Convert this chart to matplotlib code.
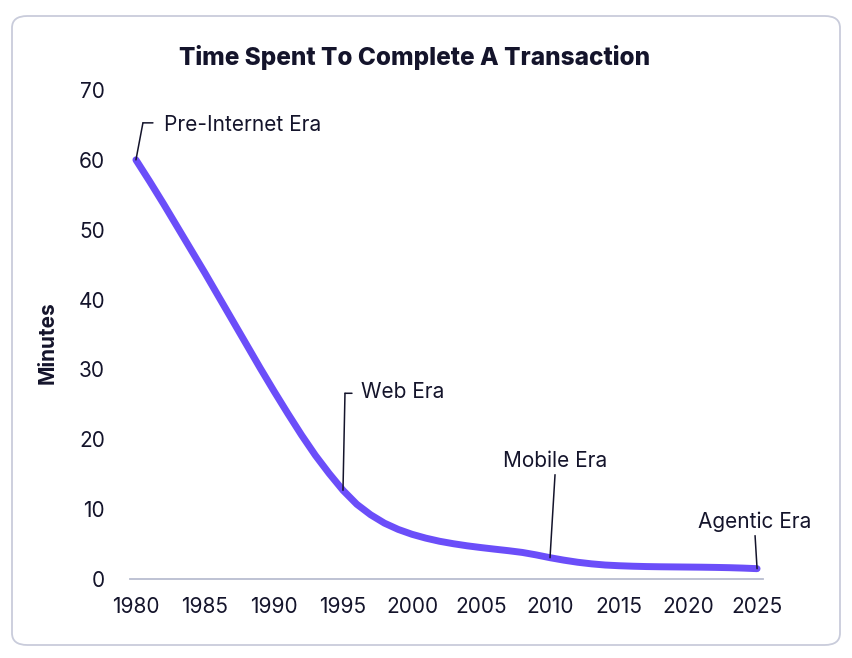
import matplotlib.pyplot as plt
from matplotlib.patches import FancyBboxPatch
from matplotlib.transforms import offset_copy

plt.rcParams['font.family'] = ['Inter', 'DejaVu Sans']

# values, one per year
years = list(range(1980, 2026))
minutes = [60, 56.9, 53.7, 50.4, 47.1, 43.8, 40.4, 37.0, 33.6, 30.2,
           26.9, 23.7, 20.6, 17.7, 15.1, 12.7, 10.7, 9.2, 8.0, 7.1,
           6.4, 5.85, 5.4, 5.05, 4.75, 4.5, 4.27, 4.05, 3.8, 3.45,
           3.05, 2.7, 2.4, 2.17, 2.0, 1.9, 1.83, 1.78, 1.75, 1.73,
           1.71, 1.69, 1.66, 1.62, 1.56, 1.48]

xTicks = [1980, 1985, 1990, 1995, 2000, 2005, 2010, 2015, 2020, 2025]
yTicks = [0, 10, 20, 30, 40, 50, 60, 70]

eraNames = ["Pre-Internet Era", "Web Era", "Mobile Era", "Agentic Era"]
eraYears = [1980, 1995, 2010, 2025]
eraValues = [60, 12.7, 3.05, 1.48]

textColor = '#14142b'
lineColor = '#6B4EF9'

fig = plt.figure(figsize=(8.52, 6.58), dpi=100)

# card background with rounded corners
card = FancyBboxPatch((12 / 852, 1 - 645 / 658), 828 / 852, 629 / 658,
                      boxstyle="round,pad=0,rounding_size=0.018",
                      transform=fig.transFigure, facecolor='white',
                      edgecolor='#c9ccdb', linewidth=1.3, zorder=-1)
fig.patches.append(card)

ax = fig.add_axes([130 / 852, 1 - 579 / 658, 633 / 852, 489 / 658])
ax.set_facecolor('none')

ax.plot(years, minutes, color=lineColor, linewidth=5, solid_capstyle='round',
        solid_joinstyle='round', zorder=3)

ax.set_xlim(1979.57, 2025.43)
ax.set_ylim(0, 70)
ax.set_xticks(xTicks)
ax.set_yticks(yTicks)
ax.tick_params(length=0, labelsize=15, labelcolor=textColor, pad=13)
ax.tick_params(axis='y', pad=18)

for side in ['top', 'right', 'left']:
    ax.spines[side].set_visible(False)
ax.spines['bottom'].set_color('#b9bdd0')
ax.spines['bottom'].set_linewidth(1.3)

ax.set_ylabel("Minutes", fontsize=15, fontweight='bold', color=textColor)
ax.yaxis.set_label_coords(-0.114, 0.483)
fig.text(0.4865, 1 - 57 / 658, "Time Spent To Complete A Transaction", ha='center', va='center',
         fontsize=17.5, fontweight=800, color=textColor)

# leader lines: (line top offset), (stub end offset or None), (text offset, ha)
leaders = [
    ((7, 37), (17, 37), (28, 35), 'left'),
    ((2, 97), (9, 97), (18, 98), 'left'),
    ((5, 83), None, (5, 97), 'center'),
    ((-2, 33), None, (-2, 47), 'center'),
]

for name, yr, val, (top, stub, txt, ha) in zip(eraNames, eraYears, eraValues, leaders):
    topTrans = offset_copy(ax.transData, fig=fig, x=top[0], y=top[1], units='dots')
    ax.annotate('', xy=(yr, val), xytext=(yr, val), textcoords=topTrans,
                arrowprops=dict(arrowstyle='-', color=textColor, lw=1.1,
                                shrinkA=0, shrinkB=0), zorder=4)
    if stub is not None:
        stubTrans = offset_copy(ax.transData, fig=fig, x=stub[0], y=stub[1], units='dots')
        ax.annotate('', xy=(yr, val), xycoords=stubTrans, xytext=(yr, val), textcoords=topTrans,
                    arrowprops=dict(arrowstyle='-', color=textColor, lw=1.1,
                                    shrinkA=0, shrinkB=0), zorder=4)
    ax.annotate(name, xy=(yr, val), xytext=txt, textcoords='offset pixels',
                ha=ha, va='center', fontsize=15, color=textColor, annotation_clip=False)

fig.savefig('out.png', dpi=100)
